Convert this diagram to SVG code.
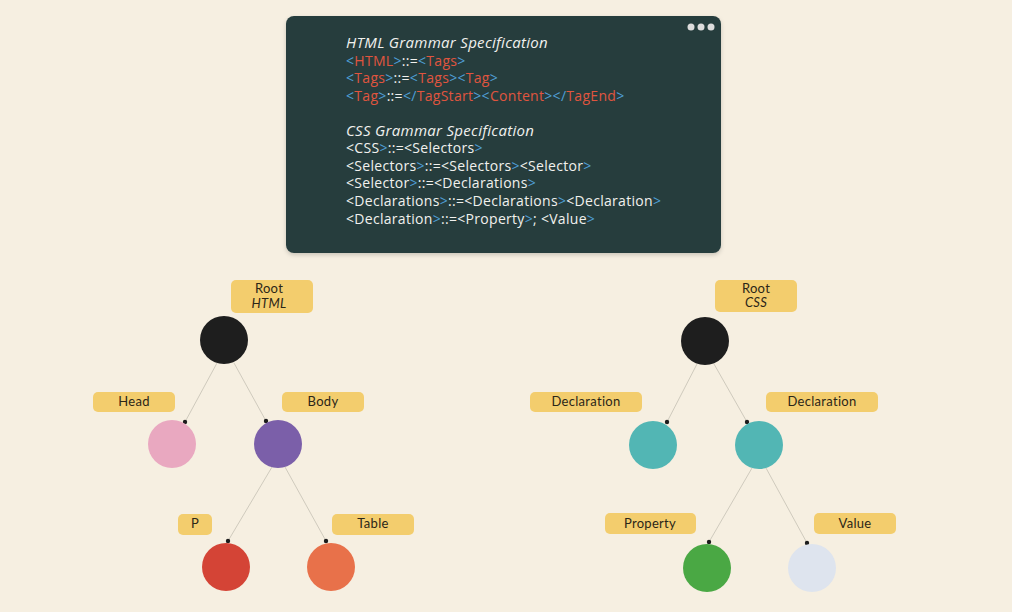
<svg xmlns="http://www.w3.org/2000/svg" width="1012" height="612" viewBox="0 0 1012 612">
<defs>
<style>
.code{font-family:"Open Sans","Noto Sans",sans-serif;font-size:14px;fill:#f1f1ee;letter-spacing:0.3px}
.ttl{font-style:italic;font-size:15px}
.b{fill:#4f9fd6}
.r{fill:#e0553f}
.lbl{fill:#f3cd6d}
.lt{font-family:"Lato","Noto Sans",sans-serif;font-size:13px;fill:#2b2618;text-anchor:middle;letter-spacing:0.3px}
.it{font-style:italic}
.edge{stroke:#cfcabd;stroke-width:1;fill:none}
.dot{fill:#1c1c1c}
</style>
<filter id="sh" x="-5%" y="-5%" width="110%" height="115%"><feDropShadow dx="0" dy="2" stdDeviation="2" flood-color="#000" flood-opacity="0.18"/></filter>
</defs>
<rect width="1012" height="612" fill="#f6efe1"/>
<g id="code-panel">
<rect x="286" y="16" width="435" height="237" rx="8" fill="#253d3e" filter="url(#sh)"/>
<circle cx="691" cy="27" r="3.5" fill="#dcdcdc"/>
<circle cx="701" cy="27" r="3.5" fill="#dcdcdc"/>
<circle cx="711" cy="27" r="3.5" fill="#dcdcdc"/>
<text class="code ttl" x="346" y="48">HTML Grammar Specification</text>
<text class="code" x="346" y="66"><tspan class="b">&lt;</tspan><tspan class="r">HTML</tspan><tspan class="b">&gt;</tspan>::=<tspan class="b">&lt;</tspan><tspan class="r">Tags</tspan><tspan class="b">&gt;</tspan></text>
<text class="code" x="346" y="83"><tspan class="b">&lt;</tspan><tspan class="r">Tags</tspan><tspan class="b">&gt;</tspan>::=<tspan class="b">&lt;</tspan><tspan class="r">Tags</tspan><tspan class="b">&gt;&lt;</tspan><tspan class="r">Tag</tspan><tspan class="b">&gt;</tspan></text>
<text class="code" x="346" y="101"><tspan class="b">&lt;</tspan><tspan class="r">Tag</tspan><tspan class="b">&gt;</tspan>::=<tspan class="b">&lt;/</tspan><tspan class="r">TagStart</tspan><tspan class="b">&gt;&lt;</tspan><tspan class="r">Content</tspan><tspan class="b">&gt;&lt;/</tspan><tspan class="r">TagEnd</tspan><tspan class="b">&gt;</tspan></text>
<text class="code ttl" x="346" y="136">CSS Grammar Specification</text>
<text class="code" x="346" y="153">&lt;CSS<tspan class="b">&gt;</tspan>::=&lt;Selectors<tspan class="b">&gt;</tspan></text>
<text class="code" x="346" y="171">&lt;Selectors<tspan class="b">&gt;</tspan>::=&lt;Selectors<tspan class="b">&gt;</tspan>&lt;Selector<tspan class="b">&gt;</tspan></text>
<text class="code" x="346" y="188">&lt;Selector<tspan class="b">&gt;</tspan>::=&lt;Declarations<tspan class="b">&gt;</tspan></text>
<text class="code" x="346" y="206">&lt;Declarations<tspan class="b">&gt;</tspan>::=&lt;Declarations<tspan class="b">&gt;</tspan>&lt;Declaration<tspan class="b">&gt;</tspan></text>
<text class="code" x="346" y="224">&lt;Declaration<tspan class="b">&gt;</tspan>::=&lt;Property<tspan class="b">&gt;</tspan>; &lt;Value<tspan class="b">&gt;</tspan></text>
</g>
<g id="connectors">
<line class="edge" x1="217" y1="363" x2="185" y2="422"/>
<line class="edge" x1="234" y1="363" x2="266" y2="421"/>
<line class="edge" x1="272" y1="467" x2="228" y2="541"/>
<line class="edge" x1="285" y1="467" x2="326" y2="541"/>
<line class="edge" x1="697" y1="364" x2="667" y2="422"/>
<line class="edge" x1="714" y1="364" x2="747" y2="422"/>
<line class="edge" x1="752" y1="468" x2="709" y2="542"/>
<line class="edge" x1="766" y1="468" x2="807" y2="543"/>
<circle class="dot" cx="185" cy="422" r="2.2"/>
<circle class="dot" cx="266" cy="421" r="2.2"/>
<circle class="dot" cx="228" cy="541" r="2.2"/>
<circle class="dot" cx="326" cy="541" r="2.2"/>
<circle class="dot" cx="667" cy="422" r="2.2"/>
<circle class="dot" cx="747" cy="422" r="2.2"/>
<circle class="dot" cx="709" cy="542" r="2.2"/>
<circle class="dot" cx="807" cy="543" r="2.2"/>
</g>
<g id="html-root">
<rect class="lbl" x="231" y="280" width="82" height="33" rx="5"/>
<text class="lt" x="269" y="293">Root</text>
<text class="lt it" x="269" y="308">HTML</text>
<circle cx="224" cy="340" r="24" fill="#1e1e1e"/>
</g>
<g id="html-head">
<rect class="lbl" x="93" y="392" width="82" height="20" rx="5"/>
<text class="lt" x="134" y="406">Head</text>
<circle cx="172" cy="444" r="24" fill="#e9a8c0"/>
</g>
<g id="html-body">
<rect class="lbl" x="282" y="392" width="82" height="20" rx="5"/>
<text class="lt" x="323" y="406">Body</text>
<circle cx="278" cy="444" r="24" fill="#7b5fa9"/>
</g>
<g id="html-p">
<rect class="lbl" x="178" y="514" width="34" height="21" rx="5"/>
<text class="lt" x="195" y="528">P</text>
<circle cx="226" cy="567" r="24" fill="#d44436"/>
</g>
<g id="html-table">
<rect class="lbl" x="332" y="514" width="82" height="21" rx="5"/>
<text class="lt" x="373" y="528">Table</text>
<circle cx="331" cy="567" r="24" fill="#e8714a"/>
</g>
<g id="css-root">
<rect class="lbl" x="715" y="280" width="82" height="32" rx="5"/>
<text class="lt" x="756" y="293">Root</text>
<text class="lt it" x="756" y="307">CSS</text>
<circle cx="705" cy="341" r="24" fill="#1e1e1e"/>
</g>
<g id="css-decl-left">
<rect class="lbl" x="530" y="392" width="112" height="20" rx="5"/>
<text class="lt" x="586" y="406">Declaration</text>
<circle cx="653" cy="445" r="24" fill="#52b6b4"/>
</g>
<g id="css-decl-right">
<rect class="lbl" x="766" y="392" width="112" height="20" rx="5"/>
<text class="lt" x="822" y="406">Declaration</text>
<circle cx="759" cy="445" r="24" fill="#52b6b4"/>
</g>
<g id="css-property">
<rect class="lbl" x="605" y="513" width="91" height="21" rx="5"/>
<text class="lt" x="650" y="528">Property</text>
<circle cx="707" cy="568" r="24" fill="#4aa844"/>
</g>
<g id="css-value">
<rect class="lbl" x="814" y="513" width="82" height="21" rx="5"/>
<text class="lt" x="855" y="528">Value</text>
<circle cx="812" cy="568" r="24" fill="#dee4ee"/>
</g>
</svg>
